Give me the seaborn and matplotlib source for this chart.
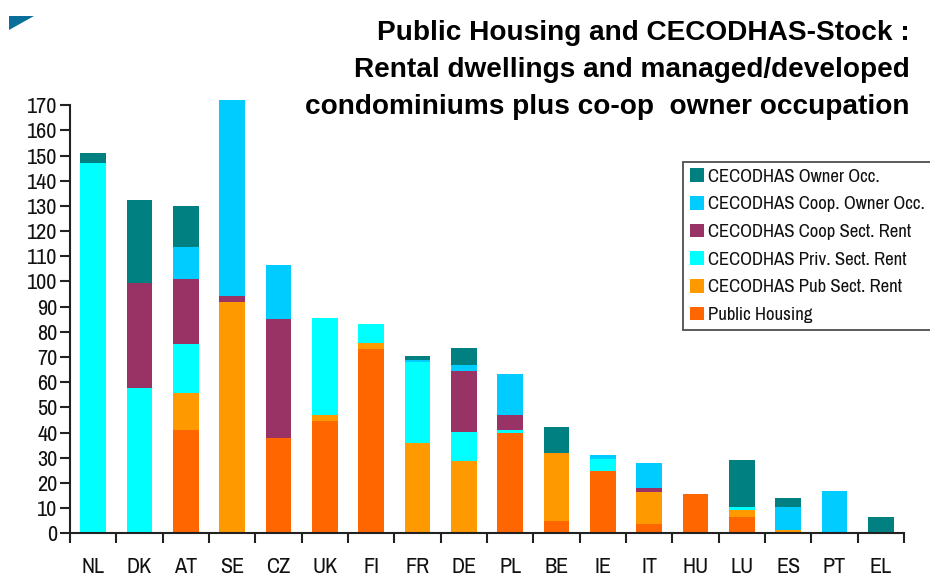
import numpy as np
import matplotlib
matplotlib.use("Agg")
import matplotlib.pyplot as plt
import seaborn as sns
from matplotlib import font_manager
from matplotlib.patches import Polygon

sns.set_style("white")
narrow = [f.name for f in font_manager.fontManager.ttflist if "Narrow" in f.name]
fam = (narrow[:1] if narrow else []) + ["Liberation Sans", "DejaVu Sans"]
plt.rcParams["font.family"] = fam
plt.rcParams["text.color"] = "#111111"
plt.rcParams["xtick.color"] = "#111111"
plt.rcParams["ytick.color"] = "#111111"

countries = ["NL", "DK", "AT", "SE", "CZ", "UK", "FI", "FR", "DE",
             "PL", "BE", "IE", "IT", "HU", "LU", "ES", "PT", "EL"]

# stacked from bottom to top
public_housing = [0, 0, 41, 0, 37.7, 44.7, 73.3, 0, 0, 39.9, 4.9, 24.7, 3.8, 15.7, 6.5, 0, 0, 0]
pub_sect_rent = [0, 0, 14.6, 92, 0, 2.3, 2.1, 35.8, 28.8, 0, 26.8, 0, 12.7, 0, 2.8, 1.2, 0, 0]
priv_sect_rent = [147, 57.5, 19.4, 0, 0, 38.4, 7.8, 32.3, 11.3, 1.2, 0, 4.8, 0, 0, 1.2, 0, 0, 0]
coop_sect_rent = [0, 42, 25.8, 2.3, 47.3, 0, 0, 0, 24.3, 5.9, 0, 0, 1.3, 0, 0, 0, 0, 0]
coop_owner_occ = [0, 0, 12.8, 77.7, 21.6, 0, 0, 0.7, 2.4, 16.4, 0, 1.7, 10.3, 0, 0, 9.2, 16.9, 0]
owner_occ = [4, 32.8, 16.4, 0, 0, 0, 0, 1.6, 6.6, 0, 10.6, 0, 0, 0, 18.6, 3.6, 0, 6.3]

series = [
    ("Public Housing", public_housing, "#FF6600"),
    ("CECODHAS Pub Sect. Rent", pub_sect_rent, "#FF9900"),
    ("CECODHAS Priv. Sect. Rent", priv_sect_rent, "#00FFFF"),
    ("CECODHAS Coop Sect. Rent", coop_sect_rent, "#993366"),
    ("CECODHAS Coop. Owner Occ.", coop_owner_occ, "#00CCFF"),
    ("CECODHAS Owner Occ.", owner_occ, "#008080"),
]

fig = plt.figure(figsize=(9.3, 5.77), dpi=100)
ax = fig.add_axes([0.0753, 0.0757, 0.8967, 0.753])

bottom = np.zeros(len(countries))
for name, vals, col in series:
    sns.barplot(x=countries, y=vals, bottom=bottom, color=col, saturation=1,
                width=0.55, label=name, ax=ax, linewidth=0)
    bottom += np.array(vals)

ax.set_xlim(-0.5, len(countries) - 0.5)
ax.set_ylim(0, 172.5)
ax.set_yticks(range(0, 171, 10))
ax.spines["top"].set_visible(False)
ax.spines["right"].set_visible(False)
ax.spines["left"].set_bounds(0, 170)
for s in ["left", "bottom"]:
    ax.spines[s].set_color("#222222")
    ax.spines[s].set_linewidth(1.5)

# ticks between categories on x
ax.set_xticks(np.arange(-0.5, len(countries) + 0.5, 1))
ax.set_xticklabels([])
ax.set_xticks(range(len(countries)), minor=True)
ax.set_xticklabels(countries, minor=True, fontsize=16)
ax.tick_params(axis="x", which="major", direction="out", length=7, width=1.5, color="#222222", bottom=True)
ax.tick_params(axis="x", which="minor", length=0, pad=17)
ax.tick_params(axis="y", direction="out", length=7, width=1.5, color="#222222", left=True, labelsize=16, pad=2)
ax.set_xlabel("")
ax.set_ylabel("")

handles, labels = ax.get_legend_handles_labels()
leg = ax.legend(handles[::-1], labels[::-1], loc="upper left", bbox_to_anchor=(0.735, 0.855),
                borderaxespad=0, frameon=True, fancybox=False, edgecolor="#222222", fontsize=13.5,
                handlelength=0.75, handleheight=0.75, handletextpad=0.25,
                labelspacing=0.6, borderpad=0.35)
leg.get_frame().set_linewidth(1.3)

fig.text(0.978, 0.965, "Public Housing and CECODHAS-Stock :\nRental dwellings and managed/developed\n"
         "condominiums plus co-op  owner occupation",
         ha="right", va="top", fontsize=20.2, fontweight="bold", linespacing=1.55,
         color="black", family=["Liberation Sans", "DejaVu Sans"])

# corner logo fragment
W, H = 930, 577
tri = Polygon([(9 / W, 1 - 16 / H), (34 / W, 1 - 16 / H), (9 / W, 1 - 30 / H)],
              closed=True, transform=fig.transFigure, color="#0A6E9A", lw=0)
fig.patches.append(tri)

fig.savefig("out.png", dpi=100)
